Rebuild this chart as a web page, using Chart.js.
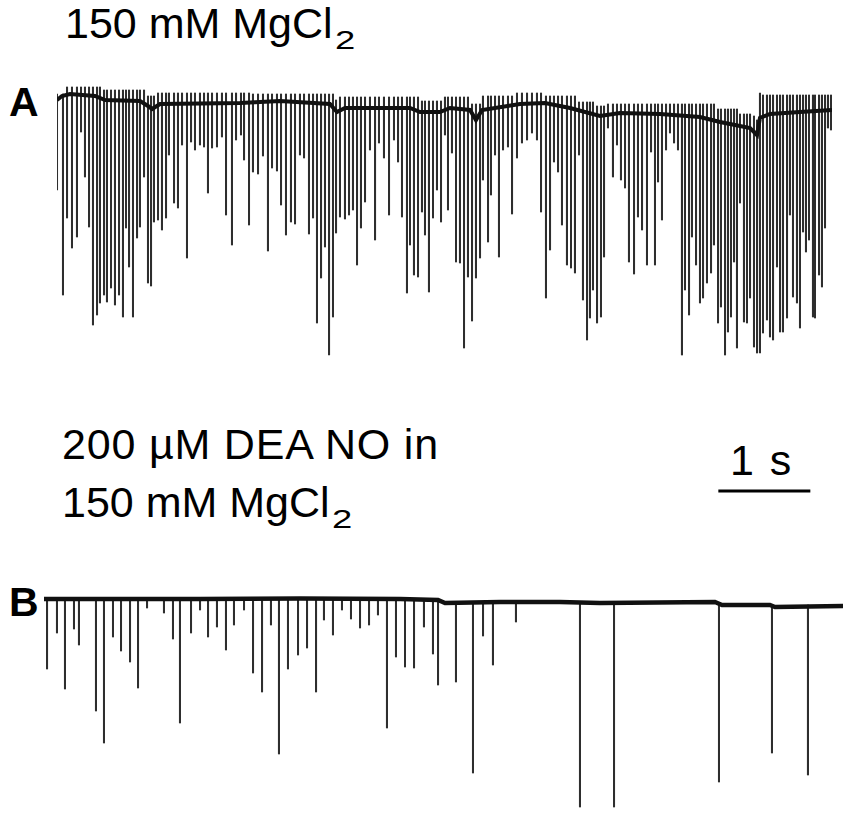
<!DOCTYPE html>
<html>
<head>
<meta charset="utf-8">
<script src="https://cdn.jsdelivr.net/npm/chart.js@4.4.1/dist/chart.umd.min.js"></script>
<style>
  html, body { margin: 0; padding: 0; background: #fff; }
  body { width: 851px; height: 814px; position: relative; overflow: hidden; }
  canvas { position: absolute; left: 0; }
  .t { position: absolute; font-family: "Liberation Sans", Arial, sans-serif; font-size: 43px; line-height: 43px; color: #000; white-space: nowrap; }
  .b { font-weight: bold; font-size: 41px; line-height: 41px; }
  .s { display: inline-block; position: relative; top: 11px; margin-left: 2px; font-size: 26px; line-height: 26px; transform: scaleX(1.4); transform-origin: left bottom; }
</style>
</head>
<body>
<div class="t" style="left:65px; top:2px;">150 mM MgCl<span class="s">2</span></div>
<div class="t b" style="left:9px; top:82px;">A</div>
<div class="t" style="left:62px; top:423px; letter-spacing:0.8px;">200 µM DEA NO in</div>
<div class="t" style="left:62px; top:481px;">150 mM MgCl<span class="s">2</span></div>
<div class="t" style="left:730px; top:439px; letter-spacing:2px;">1 s</div>
<div class="t b" style="left:9px; top:582px;">B</div>
<canvas id="cA" width="851" height="400" style="top:0px"></canvas>
<canvas id="cB" width="851" height="414" style="top:400px"></canvas>
<script>
// ---------- Panel A: 150 mM MgCl2 (time in s, current in arbitrary units) ----------
const spikeTimeA = [0.000,0.065,0.109,0.163,0.217,0.261,0.304,0.348,0.391,0.435,0.467,0.511,0.543,0.587,0.630,0.674,0.717,0.750,0.783,0.826,0.870,0.902,0.946,0.989,1.022,1.054,1.098,1.141,1.185,1.217,1.272,1.315,1.359,1.413,1.457,1.500,1.554,1.598,1.641,1.685,1.739,1.793,1.837,1.902,1.946,2.000,2.033,2.087,2.130,2.185,2.239,2.293,2.337,2.391,2.435,2.489,2.543,2.587,2.641,2.685,2.739,2.783,2.826,2.870,2.913,2.957,3.000,3.033,3.076,3.130,3.174,3.217,3.261,3.304,3.348,3.402,3.457,3.500,3.554,3.609,3.663,3.707,3.750,3.804,3.837,3.880,3.924,3.967,4.000,4.043,4.087,4.130,4.174,4.217,4.250,4.293,4.337,4.380,4.424,4.467,4.511,4.554,4.598,4.630,4.685,4.717,4.761,4.804,4.848,4.902,4.946,5.000,5.054,5.109,5.163,5.217,5.261,5.315,5.359,5.402,5.446,5.489,5.543,5.587,5.630,5.674,5.717,5.761,5.793,5.826,5.870,5.913,5.946,5.989,6.043,6.087,6.130,6.174,6.217,6.272,6.315,6.359,6.413,6.457,6.500,6.533,6.576,6.620,6.663,6.707,6.750,6.793,6.826,6.870,6.902,6.946,6.989,7.022,7.065,7.109,7.141,7.185,7.217,7.261,7.293,7.326,7.359,7.391,7.424,7.467,7.500,7.533,7.576,7.609,7.641,7.674,7.717,7.750,7.783,7.826,7.859,7.891,7.935,7.967,8.000,8.043,8.076,8.109,8.141,8.174,8.217,8.239,8.283,8.315,8.348,8.380,8.413];
const spikePeakA = [-9.0,-19.5,-11.8,-14.8,-13.7,-3.2,-7.7,-12.7,-22.5,-21.5,-20.3,-19.5,-20.2,-18.8,-20.5,-19.5,-21.7,-12.8,-16.7,-21.7,-13.8,-12.7,-7.7,-18.3,-18.6,-12.2,-12.0,-13.0,-11.8,-5.5,-10.3,-10.8,-4.5,-15.8,-4.2,-5.0,-4.5,-4.7,-9.3,-4.8,-4.7,-3.7,-11.5,-14.5,-4.0,-3.5,-6.0,-12.5,-7.2,-7.4,-5.6,-15.1,-6.8,-7.1,-10.5,-13.5,-12.2,-12.4,-5.5,-5.8,-13.4,-11.8,-22.3,-17.8,-14.7,-25.5,-21.7,-13.3,-11.7,-11.9,-11.5,-11.0,-16.5,-12.8,-10.2,-5.0,-14.0,-4.3,-5.8,-11.5,-4.0,-6.2,-11.7,-19.3,-14.5,-17.5,-17.7,-11.2,-13.5,-19.2,-11.8,-9.0,-12.2,-3.5,-11.0,-5.3,-16.2,-16.3,-24.8,-17.7,-22.1,-17.8,-15.8,-8.0,-14.2,-9.5,-5.5,-15.7,-5.0,-4.7,-11.4,-5.8,-4.3,-4.0,-3.3,-4.0,-11.2,-19.8,-15.0,-6.2,-7.2,-12.5,-16.5,-16.8,-17.3,-5.5,-20.0,-24.0,-21.8,-19.0,-22.3,-21.7,-15.7,-2.8,-7.7,-4.5,-8.0,-8.8,-16.2,-17.4,-11.7,-13.0,-16.5,-5.2,-16.5,-8.2,-12.0,-5.0,-3.3,-4.3,-5.0,-25.5,-19.0,-21.5,-13.7,-16.5,-20.3,-19.8,-18.3,-17.3,-14.5,-22.3,-20.7,-25.5,-23.2,-21.7,-16.2,-24.8,-10.3,-22.2,-22.3,-19.8,-24.7,-25.3,-25.3,-23.3,-22.0,-23.7,-24.0,-16.7,-23.2,-23.2,-21.8,-11.5,-19.7,-20.3,-22.8,-13.2,-15.2,-14.0,-21.7,-21.8,-17.5,-18.7,-12.8,-2.8,-3.0];
const spikeTipA = [0.6,0.6,
  1.3,1.3,1.3,1.3,1.3,1.3,1.3,1.3,1.3,
  1.0,1.0,1.0,1.0,1.0,1.0,1.0,1.0,1.0,1.0,1.0,1.0,
  0.4,0.4,0.4,
  0.7,0.7,0.7,0.7,0.7,0.7,0.7,0.7,0.7,0.7,0.7,0.7,0.7,0.7,0.7,0.7,0.7,0.7,0.7,0.7,0.7,0.7,
  0.6,0.6,0.6,0.6,0.6,0.6,0.6,0.6,0.6,0.6,0.6,0.6,0.6,0.6,0.6,0.6,0.6,0.6,0.6,
  0.0,
  0.3,0.3,0.3,0.3,0.3,0.3,0.3,0.3,0.3,0.3,0.3,0.3,0.3,0.3,0.3,0.3,0.3,0.3,0.3,
  -0.1,-0.1,-0.1,-0.1,-0.1,-0.1,
  0.3,0.3,0.3,0.3,0.3,0.3,0.3,
  -0.4,-0.4,-0.4,
  0.4,0.4,0.4,0.4,0.4,0.4,0.4,0.4,
  0.7,0.7,0.7,0.7,0.7,0.7,
  0.4,0.4,0.4,0.4,0.4,0.4,0.4,0.4,
  -0.2,-0.2,-0.2,-0.2,-0.2,
  -0.6,-0.6,-0.6,
  -0.4,-0.4,-0.4,-0.4,-0.4,-0.4,-0.4,-0.4,-0.4,-0.4,-0.4,-0.4,-0.4,-0.4,-0.4,-0.4,-0.4,-0.4,-0.4,-0.4,-0.4,-0.4,-0.4,-0.4,-0.4,-0.4,-0.4,-0.4,
  -0.9,-0.9,-0.9,-0.9,-0.9,-0.9,-0.9,
  -1.4,-1.4,-1.4,-1.4,-1.6,
  -2.0,0.7,
  0.5,0.5,0.5,0.5,0.5,0.5,0.5,0.5,0.5,0.5,0.5,0.5,0.5,0.5,0.5,0.5,0.5,0.5,0.5,0.5,0.5,0.5];
const baseTimeA  = [0.000,0.054,0.141,0.413,0.522,0.902,0.989,1.033,1.120,1.989,2.424,2.967,3.043,3.130,3.837,3.946,4.163,4.272,4.489,4.554,4.620,5.033,5.304,5.576,5.902,6.120,6.554,6.989,7.207,7.370,7.533,7.609,7.641,7.750,8.076,8.424];
const baseLevelA = [0.0,0.4,0.6,0.4,0.0,-0.1,-0.6,-0.9,-0.4,-0.3,-0.1,-0.4,-1.2,-0.8,-0.8,-1.2,-1.2,-0.8,-1.0,-2.0,-1.0,-0.4,-0.3,-0.8,-1.6,-1.3,-1.4,-1.7,-2.2,-2.5,-2.8,-3.5,-1.8,-1.4,-1.2,-1.0];

// ---------- Panel B: 200 µM DEA NO in 150 mM MgCl2 ----------
const spikeTimeB = [0.033,0.141,0.228,0.326,0.380,0.565,0.652,0.750,0.837,0.935,1.022,1.120,1.304,1.402,1.478,1.598,1.696,1.783,1.880,1.978,2.065,2.174,2.272,2.370,2.467,2.554,2.652,2.761,2.859,2.957,3.043,3.141,3.239,3.337,3.435,3.533,3.630,3.728,3.826,3.924,4.022,4.130,4.228,4.283,4.478,4.663,4.772,4.880,5.130,5.826,6.196,7.337,7.913,8.304];
const spikePeakB = [-6.9,-3.3,-8.9,-2.9,-4.5,-11.1,-14.3,-3.7,-5.1,-6.2,-8.8,-0.8,-1.3,-3.9,-12.3,-3.3,-1.0,-3.7,-2.7,-5.0,-2.5,-1.0,-7.3,-9.2,-2.5,-15.4,-6.9,-5.5,-4.8,-9.2,-2.0,-3.5,-1.0,-1.9,-2.8,-2.5,-1.5,-12.8,-5.7,-6.7,-6.8,-2.7,-5.4,-8.5,-8.2,-17.3,-3.6,-6.5,-2.2,-20.7,-20.7,-18.2,-15.3,-17.5];
const spikeTipB = [0.1,0.1,0.1,0.1,0.1,0.1,0.1,0.1,0.1,0.1,0.1,0.1,0.1,0.1,0.1,0.1,0.1,0.1,0.1,0.1,0.1,0.1,0.1,0.1,0.1,0.1,0.1,0.1,0.1,0.1,0.1,0.1,0.1,0.1,0.1,0.1,0.1,0.1,0.1,0.1,0.1,0.1,0.1,0.1,
  -0.2,-0.2,-0.2,-0.2,-0.2,-0.2,-0.2,-0.3,-0.5,-0.5];
const baseTimeB  = [0.000,1.696,2.783,3.870,4.283,4.359,4.957,5.609,6.043,7.293,7.370,7.891,7.946,8.685];
const baseLevelB = [0.1,0.1,0.15,0.1,0.0,-0.3,-0.2,-0.2,-0.3,-0.2,-0.5,-0.5,-0.7,-0.6];

// scale bar: 1 s
const scaleBarStart = 7.33;
const scaleBarLength = 1.0;
const scaleBarLevel = 10.9;

function spikes(t, peak, tip) {
  const n = Math.min(t.length, peak.length, tip.length);
  const out = [];
  for (let i = 0; i < n; i++) out.push({ x: t[i], y: [peak[i], tip[i]] });
  return out;
}
function line(t, v) {
  const n = Math.min(t.length, v.length);
  const out = [];
  for (let i = 0; i < n; i++) out.push({ x: t[i], y: v[i] });
  return out;
}

function makeChart(id, spk, base, xmax, ymin, ymax, pad, bandWidth, extraPlugins) {
  return new Chart(document.getElementById(id), {
    type: 'bar',
    data: {
      datasets: [
        { type: 'line', data: base, borderColor: '#111', borderWidth: bandWidth, pointRadius: 0, tension: 0, order: 0 },
        { type: 'bar', data: spk, backgroundColor: '#2e2e2e', barThickness: 1.4, borderWidth: 0, order: 1 }
      ]
    },
    options: {
      responsive: false,
      animation: false,
      devicePixelRatio: 1,
      layout: { padding: pad },
      plugins: { legend: { display: false }, tooltip: { enabled: false } },
      scales: {
        x: { type: 'linear', min: 0, max: xmax, offset: false, display: false },
        y: { min: ymin, max: ymax, display: false }
      }
    },
    plugins: extraPlugins || []
  });
}

makeChart('cA', spikes(spikeTimeA, spikePeakA, spikeTipA), line(baseTimeA, baseLevelA),
  8.424, -26, 2, { left: 57, right: 19, top: 80, bottom: 40 }, 4);

const scaleBarPlugin = {
  id: 'scaleBar',
  afterDatasetsDraw(chart) {
    const xs = chart.scales.x, ys = chart.scales.y, ctx = chart.ctx;
    const x0 = xs.getPixelForValue(scaleBarStart);
    const x1 = xs.getPixelForValue(scaleBarStart + scaleBarLength);
    const y = ys.getPixelForValue(scaleBarLevel);
    ctx.save();
    ctx.fillStyle = '#000';
    ctx.fillRect(x0, y - 1.5, x1 - x0, 3);
    ctx.restore();
  }
};
makeChart('cB', spikes(spikeTimeB, spikePeakB, spikeTipB), line(baseTimeB, baseLevelB),
  8.685, -21, 1, { left: 44, right: 8, top: 190, bottom: 4 }, 4.5, [scaleBarPlugin]);
</script>
</body>
</html>
